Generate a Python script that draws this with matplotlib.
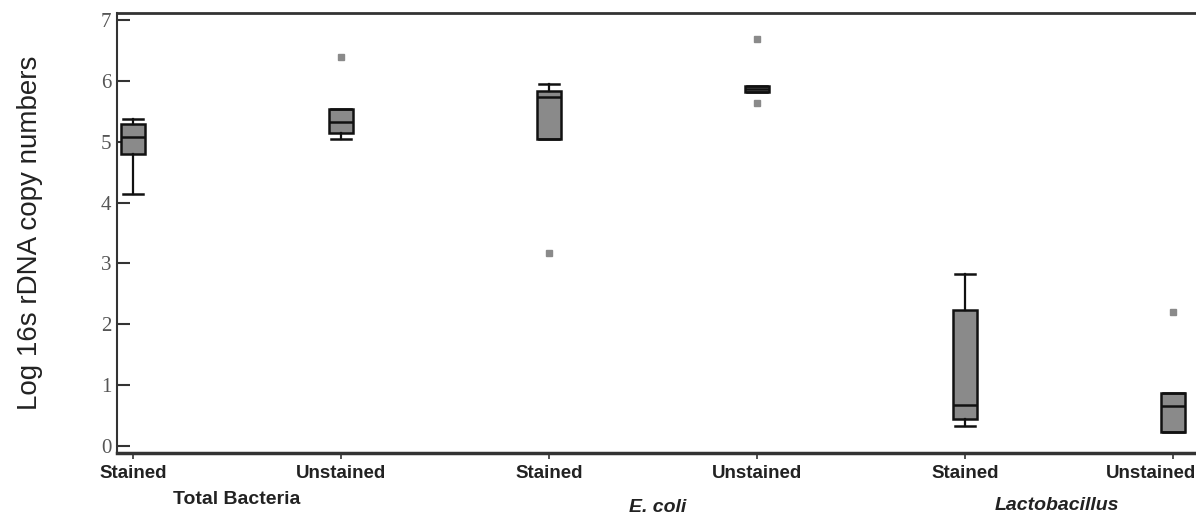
import matplotlib
matplotlib.use("Agg")
import matplotlib.pyplot as plt
import matplotlib.transforms as mtransforms

# ---- data ----
tick_labels = ["Stained", "Unstained", "Stained", "Unstained", "Stained", "Unstained"]
groups = ["Total Bacteria", "E. coli", "Lactobacillus"]
whislo = [4.14, 5.04, 5.04, 5.81, 0.33, 0.23]
q1     = [4.80, 5.15, 5.04, 5.81, 0.44, 0.23]
med    = [5.08, 5.32, 5.73, 5.86, 0.67, 0.65]
q3     = [5.29, 5.54, 5.84, 5.91, 2.24, 0.87]
whishi = [5.37, 5.54, 5.95, 5.91, 2.83, 0.87]
fliers = [[], [6.39], [3.17], [6.69, 5.63], [], [2.20]]
yticks = [0, 1, 2, 3, 4, 5, 6, 7]

W, H = 1196, 516
fig = plt.figure(figsize=(W / 100, H / 100), dpi=100)
ax = fig.add_axes([117 / W, 63 / H, (W - 117) / W, 440 / H])

stats = []
for i in range(len(tick_labels)):
    stats.append(dict(whislo=whislo[i], q1=q1[i], med=med[i], q3=q3[i],
                      whishi=whishi[i], fliers=fliers[i], label=tick_labels[i]))

positions = list(range(len(tick_labels)))
ax.bxp(stats, positions=positions, widths=0.115, patch_artist=True,
       showfliers=True,
       boxprops=dict(facecolor="#8a8a8a", edgecolor="#111111", linewidth=1.8),
       medianprops=dict(color="#111111", linewidth=1.8),
       whiskerprops=dict(color="#111111", linewidth=1.6),
       capprops=dict(color="#111111", linewidth=1.8),
       capwidths=0.1,
       flierprops=dict(marker="s", markersize=4, markerfacecolor="#8a8a8a",
                       markeredgecolor="#8a8a8a", linestyle="none"))

ax.set_xlim(-0.077, 5.11)
ax.set_ylim(-0.115, 7.115)

ax.set_yticks(yticks)
ax.set_yticklabels([str(v) for v in yticks], family="Liberation Serif",
                   fontsize=15, color="#555555")
ax.tick_params(axis="y", direction="in", length=9, width=1.5, color="#333333", pad=4)

ax.set_xticks(positions)
ax.set_xticklabels(tick_labels, family="Liberation Sans", fontweight="bold",
                   fontsize=13.5, color="#222222")
ax.tick_params(axis="x", direction="out", length=4, width=1.2, color="#333333", pad=5)

# last tick label sits slightly left so it stays inside the picture
last = ax.get_xticklabels()[-1]
last.set_transform(last.get_transform() +
                   mtransforms.ScaledTranslation(-22 / 100, 0, fig.dpi_scale_trans))

for s in ["left", "top", "bottom"]:
    ax.spines[s].set_color("#333333")
ax.spines["left"].set_linewidth(1.5)
ax.spines["top"].set_linewidth(2.0)
ax.spines["bottom"].set_linewidth(2.5)
ax.spines["right"].set_visible(False)

ax.set_ylabel("Log 16s rDNA copy numbers", family="Liberation Sans",
              fontsize=20, color="#222222", labelpad=42)

# group labels below tick labels
trans = mtransforms.blended_transform_factory(ax.transData, fig.transFigure)
group_x = [0.5, 2.52, 4.44]
group_y = [(H - 499) / H, (H - 508) / H, (H - 505) / H]
group_style = ["normal", "italic", "italic"]
for gx, gy, name, st in zip(group_x, group_y, groups, group_style):
    fig.text(gx, gy, name, transform=trans, ha="center", va="center",
             family="Liberation Sans", fontweight="bold", style=st,
             fontsize=14, color="#222222")

fig.savefig("out.png", dpi=100)
